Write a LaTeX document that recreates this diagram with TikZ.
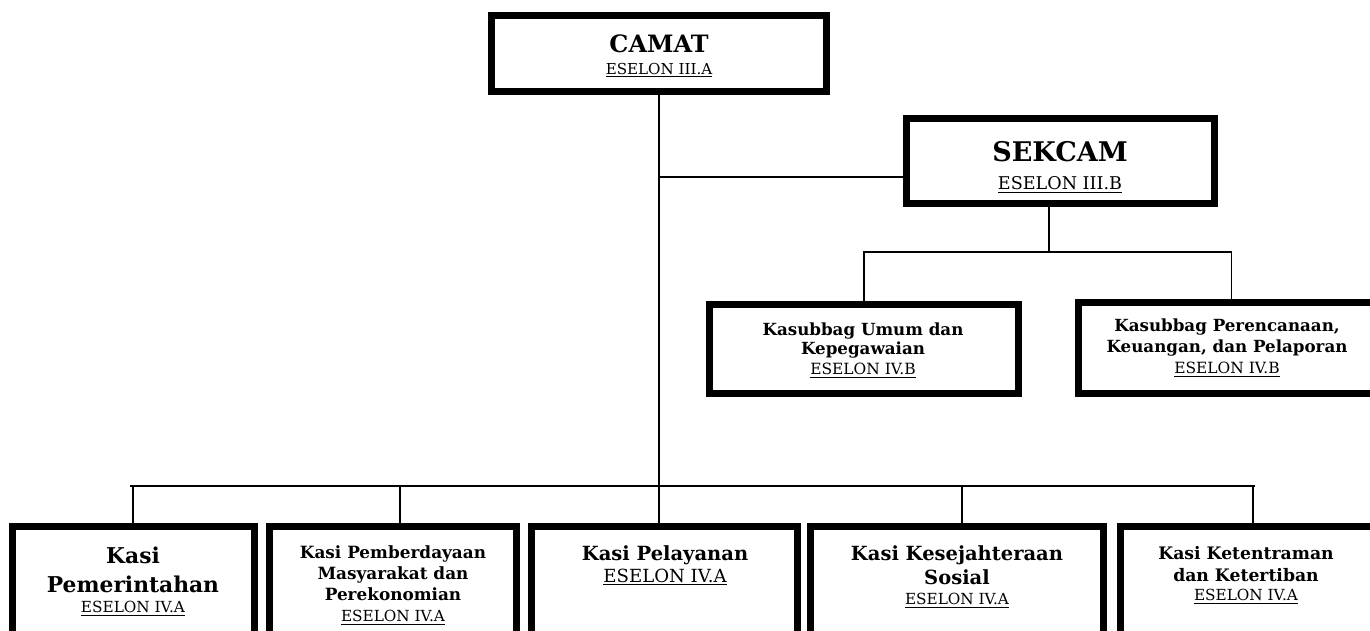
\documentclass[tikz,border=0pt]{standalone}
\usepackage{fontspec}
\setmainfont{DejaVu Serif}
\usepackage{tikz}
\usetikzlibrary{calc}
\tikzset{>=stealth}
\def\px{0.02cm}
\tikzset{
  unit/.style={draw, line width=4pt, inner sep=0pt, fill=white},
  title/.style={align=center, inner sep=0pt, anchor=north},
  conn/.style={line width=1.1pt},
}
\newcommand{\eselon}[2][8.7]{{\fontsize{#1}{#1}\selectfont\mdseries\underline{#2}}}

\begin{document}
\begin{tikzpicture}[x=\px, y=-\px]
\useasboundingbox (0,0) rectangle (1370,631);

%connectors first, boxes on top
\coordinate (tap) at (659,177);
\coordinate (subbus) at (1049,252);
\coordinate (busL) at (130,486);
\coordinate (busR) at (1255,486);

\node[unit, minimum width=335*\px, minimum height=76*\px] (camat) at (659,53.5) {};
\node[unit, minimum width=308*\px, minimum height=85*\px] (sekcam) at (1060.5,161) {};
\node[unit, minimum width=309*\px, minimum height=89*\px] (umum) at (864,349) {};
\node[unit, minimum width=306*\px, minimum height=91*\px] (rencana) at (1231.5,348) {};
\node[unit, minimum width=242*\px, minimum height=130*\px] (kasiA) at (133.5,591.5) {};
\node[unit, minimum width=247*\px, minimum height=130*\px] (kasiB) at (393,591.5) {};
\node[unit, minimum width=266*\px, minimum height=130*\px] (kasiC) at (664.5,591.5) {};
\node[unit, minimum width=293*\px, minimum height=130*\px] (kasiD) at (957,591.5) {};
\node[unit, minimum width=265*\px, minimum height=130*\px] (kasiE) at (1253,591.5) {};

\draw[conn] (camat.south) -- (camat.south |- kasiC.north);
\draw[conn] (tap) -- (tap -| sekcam.west);
\draw[conn] (subbus) -- (subbus |- sekcam.south);
\draw[conn] (umum.north) |- (subbus) -| (rencana.north);
\draw[conn] (busL) -- (busR);
\foreach \n/\x in {kasiA/133, kasiB/400, kasiD/962, kasiE/1253}
  \draw[conn] (\x,486) -- (\x,486 |- \n.north);

\node[title, font=\fontsize{13.6}{12.5}\selectfont\bfseries] (camatT) at (659,34)
  {CAMAT\\\eselon[8.6]{ESELON III.A}};
\node[title, font=\fontsize{15.4}{16}\selectfont\bfseries] (sekcamT) at (1060,141)
  {SEKCAM\\\eselon[10]{ESELON III.B}};
\node[title, font=\fontsize{9.5}{11.3}\selectfont\bfseries] (umumT) at (863,322)
  {Kasubbag Umum dan\\Kepegawaian\\\eselon[8.8]{ESELON IV.B}};
\node[title, font=\fontsize{9.5}{12}\selectfont\bfseries] (rencanaT) at (1227,318)
  {Kasubbag Perencanaan,\\Keuangan, dan Pelaporan\\\eselon[8.8]{ESELON IV.B}};
\node[title, font=\fontsize{12.4}{16.4}\selectfont\bfseries] (kasiAT) at (133,547)
  {Kasi\\Pemerintahan\\[-5pt]\eselon{ESELON IV.A}};
\node[title, font=\fontsize{9.6}{12}\selectfont\bfseries] (kasiBT) at (393,545)
  {Kasi Pemberdayaan\\Masyarakat dan\\Perekonomian\\\eselon{ESELON IV.A}};
\node[title, font=\fontsize{11.1}{12.5}\selectfont\bfseries] (kasiCT) at (665,545)
  {Kasi Pelayanan\\\eselon[10.3]{ESELON IV.A}};
\node[title, font=\fontsize{11.1}{14}\selectfont\bfseries] (kasiDT) at (957,545)
  {Kasi Kesejahteraan\\Sosial\\[-2.7pt]\eselon{ESELON IV.A}};
\node[title, font=\fontsize{9.8}{12.3}\selectfont\bfseries] (kasiET) at (1246,546)
  {Kasi Ketentraman\\dan Ketertiban\\[-1pt]\eselon{ESELON IV.A}};
\end{tikzpicture}
\end{document}
